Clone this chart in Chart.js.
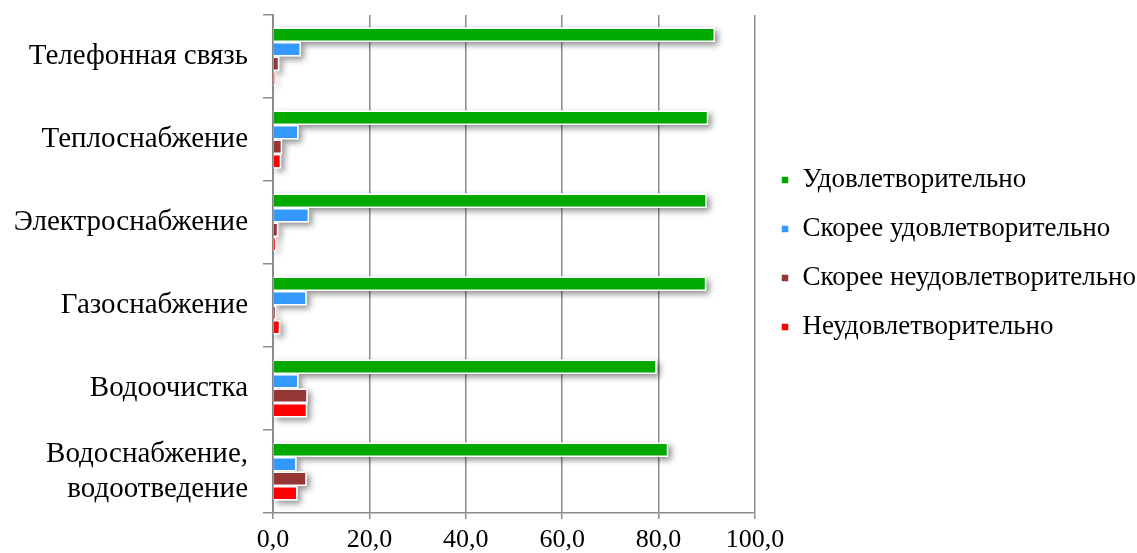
<!DOCTYPE html>
<html>
<head>
<meta charset="utf-8">
<script src="https://cdn.jsdelivr.net/npm/chart.js@4"></script>
<style>
html,body{margin:0;padding:0;background:#fff;}
#wrap{width:1137px;height:553px;}
</style>
</head>
<body>
<div id="wrap"><canvas id="c" width="1137" height="553"></canvas></div>
<script>
const categories = ['Телефонная связь', 'Теплоснабжение', 'Электроснабжение', 'Газоснабжение', 'Водоочистка', ['Водоснабжение,', 'водоотведение']];
const seriesNames = ['Удовлетворительно', 'Скорее удовлетворительно', 'Скорее неудовлетворительно', 'Неудовлетворительно'];
const satisfied = [91.7, 90.3, 90.0, 89.9, 79.6, 82.0];
const ratherSatisfied = [5.8, 5.3, 7.5, 7.0, 5.3, 4.9];
const ratherUnsatisfied = [1.3, 1.9, 1.1, 0.6, 7.2, 7.0];
const unsatisfied = [0.4, 1.7, 0.6, 1.5, 7.1, 5.1];
const xTickLabels = ['0,0', '20,0', '40,0', '60,0', '80,0', '100,0'];
const colors = ['#00A800', '#3399FF', '#953735', '#FF0000'];

const FONT = "'Liberation Serif', 'Times New Roman', serif";
const GRID = '#8c8c8c';

const shadowPlugin = {
  id: 'barShadow',
  beforeDatasetsDraw(chart) {
    const ctx = chart.ctx;
    ctx.save();
    ctx.shadowColor = 'rgba(0,0,0,0.45)';
    ctx.shadowBlur = 6;
    ctx.shadowOffsetX = 3;
    ctx.shadowOffsetY = 3;
    ctx.fillStyle = '#ffffff';
    chart.data.datasets.forEach((ds, i) => {
      const meta = chart.getDatasetMeta(i);
      meta.data.forEach(el => {
        const x0 = Math.min(el.base, el.x);
        const w = Math.abs(el.x - el.base);
        ctx.fillRect(x0, el.y - el.height / 2, w, el.height);
      });
    });
    ctx.restore();
  }
};

const values = [satisfied, ratherSatisfied, ratherUnsatisfied, unsatisfied];

new Chart(document.getElementById('c'), {
  type: 'bar',
  data: {
    labels: categories,
    datasets: seriesNames.map((n, i) => ({
      label: n,
      data: values[i],
      backgroundColor: colors[i],
      borderColor: '#ffffff',
      borderWidth: 1.5,
      categoryPercentage: 0.7,
      barPercentage: 1.0
    }))
  },
  options: {
    indexAxis: 'y',
    responsive: false,
    animation: false,
    layout: { padding: { top: 15, right: 0, bottom: 0, left: 0 } },
    scales: {
      x: {
        min: 0, max: 100,
        ticks: {
          stepSize: 20,
          padding: 8,
          color: '#000',
          font: { family: FONT, size: 26, lineHeight: 1.0 },
          callback: (v, i) => xTickLabels[i]
        },
        grid: { color: GRID, lineWidth: 1.5, tickLength: 6 },
        border: { color: GRID, width: 1.5 },
        afterFit: s => { s.height = 40; s.paddingLeft = 0; s.paddingRight = 0; }
      },
      y: {
        ticks: {
          padding: 15,
          color: '#000',
          font: { family: FONT, size: 29, lineHeight: 1.2 }
        },
        grid: { drawOnChartArea: false, color: GRID, lineWidth: 1.5, tickLength: 10, offset: true },
        border: { color: GRID, width: 2 },
        afterFit: s => { s.width = 273; s.paddingTop = 0; s.paddingBottom = 0; }
      },
      pad: {
        type: 'linear',
        position: 'right',
        display: true,
        grid: { display: false },
        ticks: { display: false },
        border: { display: false },
        afterFit: s => { s.width = 4; s.paddingTop = 0; s.paddingBottom = 0; }
      }
    },
    plugins: {
      legend: {
        position: 'right',
        align: 'start',
        maxWidth: 378,
        title: { display: true, text: '', font: { size: 10, lineHeight: 1 }, padding: { top: 119.5, bottom: 0 } },
        labels: {
          boxWidth: 8,
          boxHeight: 8,
          padding: 22,
          color: '#000',
          font: { family: FONT, size: 27 }
        }
      },
      tooltip: { enabled: false }
    }
  },
  plugins: [shadowPlugin]
});
</script>
</body>
</html>
